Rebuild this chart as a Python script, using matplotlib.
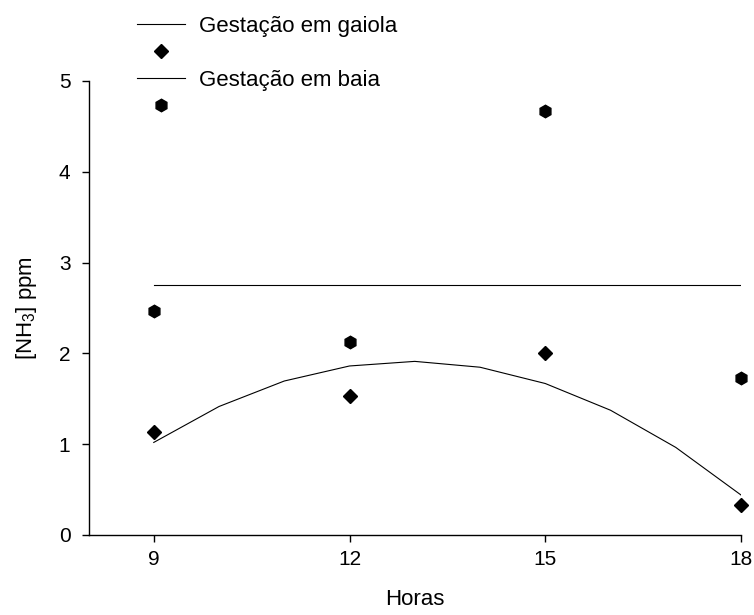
import numpy as np
import matplotlib
matplotlib.use("Agg")
import matplotlib.pyplot as plt
from matplotlib.lines import Line2D

plt.rcParams["font.family"] = ["Liberation Sans", "DejaVu Sans"]
plt.rcParams["mathtext.fontset"] = "custom"
plt.rcParams["mathtext.rm"] = "Liberation Sans"
plt.rcParams["mathtext.it"] = "Liberation Sans:italic"

# NH3 concentration (ppm) by hour of the day
horas = [9, 12, 15, 18]
gaiola = [1.13, 1.53, 2.00, 0.33]
baia = [2.47, 2.13, 4.67, 1.73]
horas_curva = [9, 10, 11, 12, 13, 14, 15, 16, 17, 18]

# quadratic regression for gaiola, flat mean for baia
coef = np.polyfit(horas, gaiola, 2)
gaiola_fit = np.polyval(coef, horas_curva)
baia_mean = np.mean(baia)

fig = plt.figure(figsize=(7.54, 6.15), dpi=100)
W, H = 754, 615
ax = fig.add_axes([88.5 / W, (H - 535) / H, (741 - 88.5) / W, (535 - 81) / H])

ax.plot(horas_curva, gaiola_fit, color="black", lw=0.8)
ax.plot([horas[0], horas[-1]], [baia_mean, baia_mean], color="black", lw=0.8)
ax.plot(horas, gaiola, ls="none", marker="D", ms=7, color="black", clip_on=False)
ax.plot(horas, baia, ls="none", marker="h", ms=9, color="black", clip_on=False)

ax.set_xlim(8, 18)
ax.set_ylim(0, 5)
ax.set_xticks([9, 12, 15, 18])
ax.set_yticks([0, 1, 2, 3, 4, 5])
for s in ["top", "right"]:
    ax.spines[s].set_visible(False)
for s in ["left", "bottom"]:
    ax.spines[s].set_linewidth(1.0)
ax.tick_params(direction="out", length=5, width=1, labelsize=15)
ax.tick_params(axis="y", pad=8)
ax.tick_params(axis="x", pad=6)

ax.set_xlabel("Horas", fontsize=16, labelpad=14)
ax.set_ylabel("[NH$_3$] ppm", fontsize=16, labelpad=14)

handles = [
    Line2D([], [], color="black", lw=0.8),
    Line2D([], [], ls="none", marker="D", ms=7, color="black"),
    Line2D([], [], color="black", lw=0.8),
    Line2D([], [], ls="none", marker="h", ms=9, color="black"),
]
labels = ["Gestação em gaiola", " ", "Gestação em baia", " "]
fig.legend(handles, labels, loc="upper left", bbox_to_anchor=(137 / W, 1 - 16 / H),
           frameon=False, fontsize=16, borderpad=0, borderaxespad=0,
           handlelength=2.15, handletextpad=0.63, labelspacing=0.27)

fig.savefig("out.png", dpi=100)
